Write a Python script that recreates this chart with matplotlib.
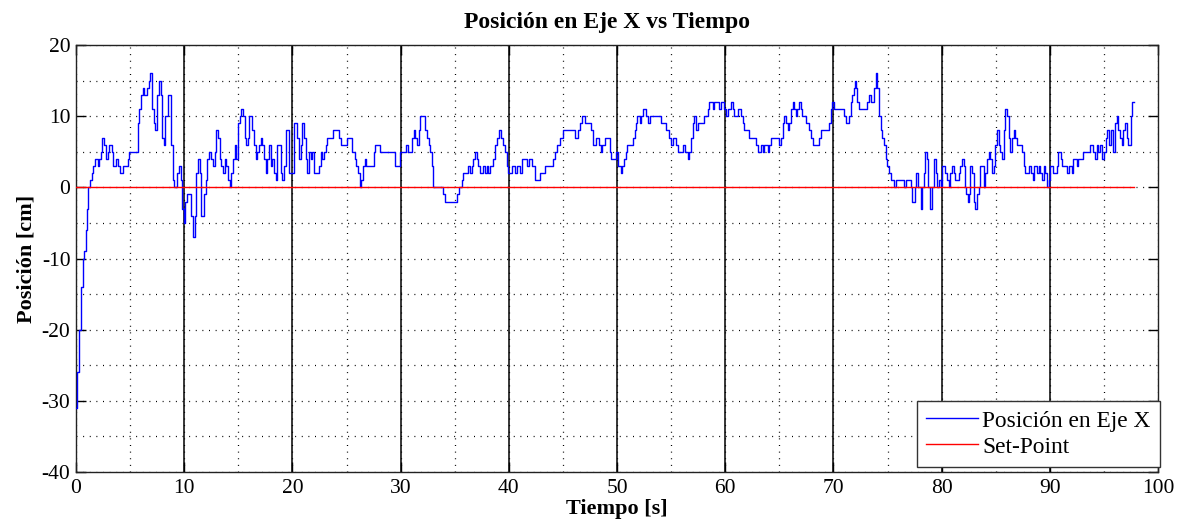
import numpy as np
import matplotlib
matplotlib.use("Agg")
import matplotlib.pyplot as plt
from matplotlib.ticker import MultipleLocator

# Data (step signal, value held until next time)
time_s = [
    0.0, 0.1, 0.3, 0.46, 0.62, 0.77, 0.93, 1.02, 1.14, 1.33, 1.45, 1.6, 1.76, 2.0, 2.16, 2.31,
    2.41, 2.62, 2.75, 2.93, 3.09, 3.3, 3.46, 3.7, 3.86, 4.1, 4.32, 4.78, 4.94, 5.71, 5.86, 6.02,
    6.17, 6.33, 6.57, 6.73, 6.88, 7.04, 7.19, 7.31, 7.5, 7.65, 7.81, 7.93, 8.12, 8.24, 8.49, 8.8,
    8.95, 9.1, 9.35, 9.48, 9.66, 9.81, 9.97, 10.12, 10.28, 10.65, 10.8, 10.96, 11.11, 11.27, 11.42, 11.57,
    11.82, 11.98, 12.13, 12.28, 12.44, 12.65, 12.81, 12.96, 13.12, 13.27, 13.43, 13.58, 13.73, 13.89, 14.04, 14.2,
    14.35, 14.51, 14.66, 14.81, 14.97, 15.12, 15.28, 15.43, 15.59, 15.74, 15.9, 16.0, 16.3, 16.45, 16.61, 16.76,
    16.91, 17.07, 17.22, 17.37, 17.53, 17.69, 17.83, 17.99, 18.15, 18.29, 18.45, 18.61, 18.91, 19.07, 19.22, 19.37,
    19.68, 20.14, 20.45, 20.6, 20.76, 20.91, 21.06, 21.22, 21.37, 21.52, 21.68, 21.83, 21.98, 22.44, 22.6, 22.76,
    22.9, 23.06, 23.22, 23.73, 24.29, 24.53, 25.06, 25.52, 25.76, 25.92, 26.07, 26.22, 26.38, 26.53, 26.68, 26.84,
    27.51, 27.67, 28.13, 29.51, 29.97, 30.5, 30.65, 31.05, 31.2, 31.35, 31.51, 31.66, 31.82, 32.28, 32.43, 32.58,
    32.74, 32.89, 32.98, 33.04, 33.96, 34.12, 35.2, 35.44, 35.66, 35.81, 36.27, 36.42, 36.58, 36.73, 36.88, 37.04,
    37.19, 37.35, 37.59, 37.81, 37.96, 38.11, 38.27, 38.57, 38.73, 38.88, 39.1, 39.28, 39.44, 39.65, 39.81, 39.95,
    40.27, 40.57, 40.73, 41.03, 41.19, 41.65, 41.86, 42.17, 42.41, 42.87, 43.34, 44.1, 44.26, 44.42, 44.72, 45.02,
    46.1, 46.41, 46.56, 46.81, 47.02, 47.64, 47.79, 48.1, 48.31, 48.5, 48.62, 48.87, 49.33, 49.48, 49.94, 50.09,
    50.34, 50.5, 50.65, 50.8, 50.96, 51.47, 51.63, 51.72, 51.88, 52.09, 52.25, 52.4, 52.71, 52.86, 53.01, 54.09,
    54.55, 54.76, 54.95, 55.16, 55.47, 55.62, 56.08, 56.24, 56.54, 56.7, 56.86, 57.0, 57.16, 57.32, 57.47, 58.08,
    58.39, 58.54, 58.85, 59.0, 59.47, 59.62, 59.93, 60.08, 60.23, 60.54, 60.69, 60.85, 61.15, 61.46, 61.62, 61.77,
    62.23, 62.85, 63.0, 63.3, 63.46, 63.6, 63.92, 64.07, 64.23, 65.0, 65.15, 65.3, 65.46, 65.61, 65.76, 65.92,
    66.07, 66.22, 66.38, 66.54, 66.68, 66.84, 66.99, 67.14, 67.46, 67.7, 67.92, 68.07, 68.68, 68.84, 69.6, 69.76,
    69.91, 70.06, 70.99, 71.2, 71.45, 71.6, 71.75, 71.91, 72.0, 72.12, 72.21, 72.37, 73.13, 73.29, 73.45, 73.75,
    73.91, 74.06, 74.21, 74.37, 74.52, 74.67, 74.83, 74.98, 75.13, 75.29, 75.6, 75.75, 76.52, 76.67, 77.13, 77.28,
    77.53, 77.65, 77.84, 78.05, 78.2, 78.36, 78.51, 78.66, 78.76, 78.94, 79.12, 79.28, 79.44, 79.59, 79.75, 79.9,
    80.05, 80.36, 80.51, 80.66, 80.82, 80.97, 81.12, 81.28, 81.59, 81.74, 81.89, 82.05, 82.14, 82.29, 82.41, 82.53,
    82.66, 82.81, 82.97, 83.12, 83.27, 83.43, 83.52, 83.89, 84.05, 84.2, 84.35, 84.51, 84.66, 84.81, 84.97, 85.12,
    85.27, 85.43, 85.58, 85.73, 85.89, 86.04, 86.19, 86.35, 86.5, 86.65, 86.81, 86.96, 87.42, 87.58, 87.73, 88.04,
    88.25, 88.43, 88.56, 88.8, 88.96, 89.11, 89.26, 89.42, 89.57, 89.72, 89.97, 90.03, 90.34, 90.65, 90.8, 91.01,
    91.12, 91.57, 91.73, 92.03, 92.18, 92.49, 92.65, 93.11, 93.72, 94.03, 94.18, 94.33, 94.49, 94.64, 94.79, 95.0,
    95.16, 95.32, 95.47, 95.65, 95.87, 96.03, 96.17, 96.33, 96.49, 96.64, 96.79, 96.94, 97.1, 97.25, 97.5, 97.62,
    97.8,
]
pos_cm = [
    -31, -26, -20, -14, -10, -9, -6, -3, 0, 1, 2, 3, 4, 3, 4, 5,
    7, 6, 4, 5, 6, 5, 3, 4, 3, 2, 3, 4, 5, 9, 11, 13,
    14, 13, 14, 15, 16, 11, 9, 8, 13, 15, 13, 7, 6, 10, 13, 6,
    1, 0, 2, 3, 1, -3, -5, -2, -1, -4, -7, -4, 2, 4, 2, -4,
    -1, 1, 4, 5, 4, 3, 5, 8, 7, 4, 3, 2, 4, 3, 1, 0,
    2, 4, 6, 4, 9, 10, 11, 10, 7, 6, 7, 10, 8, 6, 4, 5,
    6, 7, 6, 4, 2, 4, 6, 3, 4, 2, 1, 6, 2, 1, 3, 8,
    2, 9, 7, 4, 6, 9, 7, 4, 2, 5, 4, 5, 2, 3, 5, 4,
    5, 6, 7, 8, 7, 6, 7, 5, 4, 3, 2, 0, 1, 3, 4, 3,
    5, 6, 5, 3, 5, 6, 5, 7, 8, 7, 6, 8, 10, 8, 7, 6,
    5, 3, 1, 0, -1, -2, -1, 0, 1, 2, 3, 2, 3, 4, 5, 4,
    3, 2, 3, 2, 3, 2, 3, 4, 6, 7, 8, 7, 6, 5, 3, 2,
    3, 2, 3, 2, 4, 3, 4, 3, 1, 2, 3, 4, 5, 6, 7, 8,
    7, 8, 9, 10, 9, 8, 6, 7, 6, 5, 6, 7, 5, 4, 5, 3,
    2, 3, 4, 5, 6, 7, 8, 9, 10, 9, 10, 11, 10, 9, 10, 9,
    8, 7, 6, 7, 6, 5, 6, 5, 4, 5, 7, 9, 10, 8, 9, 10,
    11, 12, 11, 12, 11, 12, 11, 10, 11, 12, 11, 10, 11, 10, 9, 8,
    7, 6, 5, 6, 5, 6, 5, 6, 7, 6, 7, 9, 10, 9, 8, 9,
    11, 12, 11, 10, 11, 12, 11, 10, 9, 8, 7, 6, 7, 8, 9, 11,
    12, 11, 10, 9, 10, 12, 13, 14, 15, 14, 12, 11, 12, 13, 12, 14,
    16, 14, 10, 8, 7, 6, 4, 3, 2, 1, 0, 1, 0, 1, 0, -2,
    0, 2, 0, -3, 0, 2, 5, 4, 0, -3, 0, 4, 2, 0, 1, 0,
    3, 2, 1, 0, 2, 3, 2, 1, 2, 3, 4, 3, 0, -1, -2, -1,
    3, 2, -2, -3, -1, 0, 3, 0, 2, 4, 5, 4, 2, 3, 6, 8,
    6, 5, 4, 8, 11, 10, 7, 5, 7, 8, 7, 6, 5, 3, 2, 3,
    2, 1, 3, 2, 3, 2, 1, 3, 2, 0, 1, 3, 2, 3, 5, 4,
    3, 2, 3, 2, 4, 3, 4, 5, 6, 5, 4, 6, 5, 6, 4, 5,
    7, 8, 6, 8, 5, 9, 10, 8, 7, 6, 8, 9, 7, 6, 10, 12,
    12,
]
SET_POINT = 0

x_ticks = [0, 10, 20, 30, 40, 50, 60, 70, 80, 90, 100]
y_ticks = [-40, -30, -20, -10, 0, 10, 20]

plt.rcParams['font.family'] = ['Liberation Serif', 'DejaVu Serif']
plt.rcParams['axes.unicode_minus'] = False

fig = plt.figure(figsize=(11.79, 5.27), dpi=100)
ax = fig.add_axes([76 / 1179, 1 - 472 / 527, 1082 / 1179, 427 / 527])

# dotted grid every 5 units, solid black lines at every 10 s
ax.xaxis.set_minor_locator(MultipleLocator(5))
ax.yaxis.set_minor_locator(MultipleLocator(5))
ax.grid(True, which='both', color='black', linestyle=(0, (0.8, 4.5)), linewidth=0.9)
for xv in x_ticks[1:-1]:
    ax.axvline(xv, color='black', linewidth=1.1, zorder=1.5)

ax.plot(time_s, pos_cm, color='blue', linewidth=1.0, drawstyle='steps-post',
        label='Posición en Eje X', zorder=3)
ax.plot(time_s, np.full(len(time_s), SET_POINT), color='red', linewidth=1.0,
        label='Set-Point', zorder=3)

ax.set_xlim(0, 100)
ax.set_ylim(-40, 20)
ax.set_xticks(x_ticks)
ax.set_yticks(y_ticks)
ax.tick_params(which='major', direction='in', length=7, width=1,
               top=True, right=True, labelsize=15.5)
ax.tick_params(axis='x', pad=5)
ax.tick_params(axis='y', pad=4)
ax.tick_params(which='minor', length=0)
for s in ax.spines.values():
    s.set_linewidth(1.0)
    s.set_color('#222222')

ax.set_title('Posición en Eje X vs Tiempo', fontsize=17, fontweight='bold', pad=12, x=0.491)
ax.set_xlabel('Tiempo [s]', fontsize=16, fontweight='bold', labelpad=1)
ax.set_ylabel('Posición [cm]', fontsize=16, fontweight='bold', labelpad=4)

leg = ax.legend(loc='lower right', bbox_to_anchor=(1.002, 0.012), fontsize=16.8,
                fancybox=False, framealpha=1, edgecolor='#333333', handlelength=2.2,
                handletextpad=0.2, borderaxespad=0, borderpad=0.4, labelspacing=0.2)
leg.get_frame().set_linewidth(1.0)

fig.savefig('out.png', dpi=100)
